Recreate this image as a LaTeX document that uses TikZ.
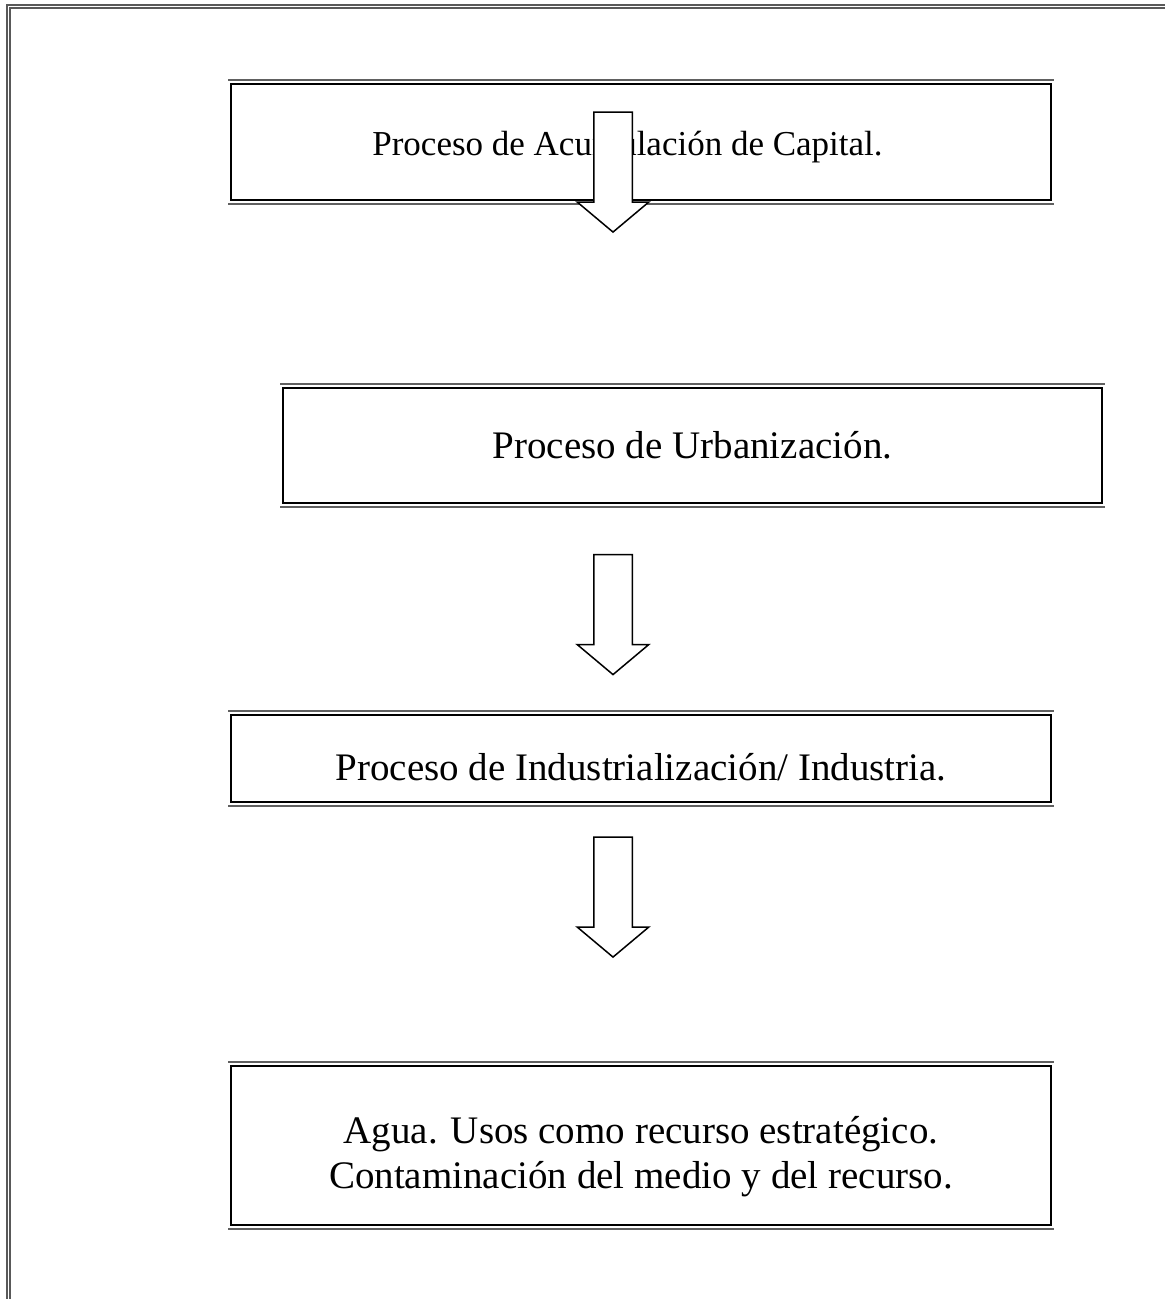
\documentclass[tikz,border=0pt]{standalone}
\usepackage{fontspec}
\setmainfont{Liberation Serif}
\usetikzlibrary{shapes.arrows}

\tikzset{
  caja/.style={draw=black,line width=1pt,inner sep=0pt},
  texto/.style={align=center,inner sep=0pt,font=\fontsize{19.5}{22.5}\selectfont},
  raya/.style={draw=gray!75!black,line width=1pt},
  marco/.style={draw=gray!70!black,line width=0.6pt},
  flecha/.style={single arrow,draw=black,fill=white,line width=0.75pt,
    shape border rotate=270,inner sep=9.25pt,minimum width=0pt,
    single arrow head extend=8.25pt,single arrow tip angle=100,
    minimum height=60pt}
}

\begin{document}
\begin{tikzpicture}[x=0.5pt,y=-0.5pt]
\useasboundingbox (0,0) rectangle (1165,1299);
% page frame
\draw[marco] (7,1299) -- (7,5) -- (1165,5);
\draw[marco] (10,1299) -- (10,8) -- (1165,8);

\node[caja,minimum width=410pt,minimum height=58pt] (acum) at (641,142) {};
\node[caja,minimum width=409.5pt,minimum height=57.5pt] (urb) at (692.5,445.5) {};
\node[caja,minimum width=410pt,minimum height=43.5pt] (ind) at (641,758.5) {};
\node[caja,minimum width=410pt,minimum height=79.5pt] (agua) at (641,1145.5) {};

\node[texto,font=\fontsize{17.5}{21}\selectfont] (acumtxt) at ([xshift=-6.75pt,yshift=-2.5pt]acum.center) {Proceso de Acumulación de Capital.};
\node[texto] (urbtxt) at (urb.center) {Proceso de Urbanización.};
\node[texto] (indtxt) at ([yshift=-4.5pt]ind.center) {Proceso de Industrialización/ Industria.};
\node[texto] (aguatxt) at ([yshift=-5.5pt]agua.center) {Agua. Usos como recurso estratégico.\\Contaminación del medio y del recurso.};

\foreach \c in {acum,urb,ind,agua} {
  \draw[raya] ([xshift=-1pt,yshift=1.5pt]\c.north west) -- ([xshift=1pt,yshift=1.5pt]\c.north east);
  \draw[raya] ([xshift=-1pt,yshift=-1.5pt]\c.south west) -- ([xshift=1pt,yshift=-1.5pt]\c.south east);
}

\node[flecha] (f1) at (613,164) {};
\node[flecha] (f2) at (613,606.5) {};
\node[flecha] (f3) at (613,889) {};
\end{tikzpicture}
\end{document}
